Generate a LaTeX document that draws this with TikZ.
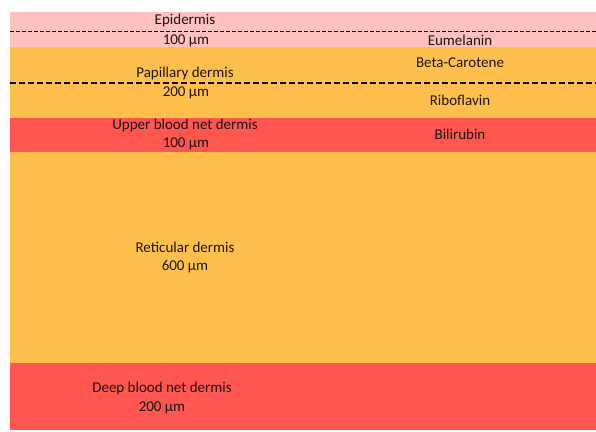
\documentclass[tikz,border=0pt]{standalone}
\usepackage{fontspec}
\setmainfont{Carlito}
\usepackage{xcolor}
\usepackage{tikz}
\definecolor{ep}{RGB}{255,192,192}
\definecolor{og}{RGB}{255,191,76}
\definecolor{bn}{RGB}{255,86,79}
\definecolor{tx}{RGB}{30,20,20}
\tikzset{lbl/.style={font=\fontsize{15}{17}\selectfont,text=tx,inner sep=0pt}}

\begin{document}
\begin{tikzpicture}[x=1pt,y=-1pt]
  \useasboundingbox (0,0) rectangle (596,431);

  % layers
  \fill[ep] (10,12) rectangle (596,47);
  \fill[og] (10,47) rectangle (596,118);
  \fill[bn] (10,118) rectangle (596,152);
  \fill[og] (10,152) rectangle (596,363);
  \fill[bn] (10,363) rectangle (596,430);
  \draw[line width=0.9pt,dash pattern=on 4pt off 2pt] (10,31) -- (596,31);
  \draw[line width=1.1pt,dash pattern=on 6pt off 3pt] (10,83) -- (596,83);

  % left
  \node[lbl] (epi) at (185,21) {Epidermis};
  \node[lbl] (epit) at (186,41) {100 µm};
  \node[lbl] (pap) at (185,73) {Papillary dermis};
  \node[lbl] (papt) at (186,93) {200 µm};
  \node[lbl] (ubn) at (185,125) {Upper blood net dermis};
  \node[lbl] (ubnt) at (186,144) {100 µm};
  \node[lbl] (ret) at (185,247) {Reticular dermis};
  \node[lbl] (rett) at (185,267) {600 µm};
  \node[lbl] (dbn) at (162,388) {Deep blood net dermis};
  \node[lbl] (dbnt) at (162,408) {200 µm};

  % right
  \node[lbl] (eum) at (460,40) {Eumelanin};
  \node[lbl] (car) at (460,63) {Beta-Carotene};
  \node[lbl] (rib) at (460,100) {Riboflavin};
  \node[lbl] (bil) at (460,134) {Bilirubin};
\end{tikzpicture}
\end{document}
